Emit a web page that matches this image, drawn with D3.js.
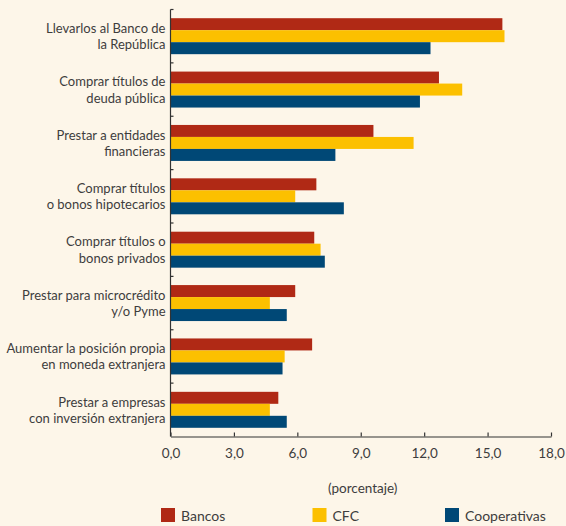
<!DOCTYPE html>
<html>
<head>
<meta charset="utf-8">
<script src="https://cdn.jsdelivr.net/npm/d3@7"></script>
<style>
  body { margin: 0; background: #fdf6e9; }
  svg { display: block; font-family: Lato, "Open Sans", sans-serif; }
</style>
</head>
<body>
<script>
// Data
var categories = [
  ["Llevarlos al Banco de", "la República"],
  ["Comprar títulos de", "deuda pública"],
  ["Prestar a entidades", "financieras"],
  ["Comprar títulos", "o bonos hipotecarios"],
  ["Comprar títulos o", "bonos privados"],
  ["Prestar para microcrédito", "y/o Pyme"],
  ["Aumentar la posición propia", "en moneda extranjera"],
  ["Prestar a empresas", "con inversión extranjera"]
];
var seriesNames = ["Bancos", "CFC", "Cooperativas"];
var bancos       = [15.7, 12.7, 9.6, 6.9, 6.8, 5.9, 6.7, 5.1];
var cfc          = [15.8, 13.8, 11.5, 5.9, 7.1, 4.7, 5.4, 4.7];
var cooperativas = [12.3, 11.8, 7.8, 8.2, 7.3, 5.5, 5.3, 5.5];
var xTicks = [0, 3, 6, 9, 12, 15, 18];
var axisTitle = "(porcentaje)";

var colors = ["#b02915", "#fcc000", "#004876"];

var svgWidth = 566;
var svgHeight = 526;

// plot area
var margin = { top: 9.5, left: 170.5 };
var chartWidth = 551 - margin.left;
var chartHeight = 436.5 - margin.top;

var svg = d3.select("body")
            .append("svg")
            .attr("width", svgWidth)
            .attr("height", svgHeight);

var chartGroup = svg.append("g")
                    .attr("transform", `translate(${margin.left}, ${margin.top})`);

var rows = categories.map(function(c, i) {
  return { label: c, values: [bancos[i], cfc[i], cooperativas[i]] };
});

var y = d3.scaleBand()
          .domain(d3.range(categories.length))
          .range([0, chartHeight])
          .paddingInner(0.326)
          .paddingOuter(0.163);

var y1 = d3.scaleBand()
           .domain(d3.range(seriesNames.length))
           .range([0, y.bandwidth()]);

var x = d3.scaleLinear()
          .domain([0, 18])
          .range([0, chartWidth]);

// bars
var groups = chartGroup.selectAll(".grp")
                       .data(rows)
                       .enter()
                       .append("g")
                       .attr("class", "grp")
                       .attr("transform", (d, i) => `translate(0, ${y(i)})`);

groups.selectAll("rect")
      .data(d => d.values)
      .enter()
      .append("rect")
      .attr("x", 0)
      .attr("y", (d, j) => y1(j))
      .attr("width", d => x(d))
      .attr("height", y1.bandwidth())
      .attr("fill", (d, j) => colors[j]);

// category labels (two lines)
groups.append("text")
      .attr("x", -5)
      .attr("y", y.bandwidth() / 2)
      .attr("text-anchor", "end")
      .style("font-size", "13px")
      .style("fill", "#3d3d3d")
      .selectAll("tspan")
      .data(d => d.label)
      .enter()
      .append("tspan")
      .attr("x", -5)
      .attr("dy", (d, k) => k === 0 ? "-0.25em" : "1.25em")
      .text(d => d);

// y axis: line with ticks between groups pointing right
var yEdges = d3.range(categories.length + 1).map(i => i * chartHeight / categories.length);
chartGroup.append("line")
          .attr("x1", 0).attr("x2", 0)
          .attr("y1", 0).attr("y2", chartHeight)
          .attr("stroke", "#333").attr("stroke-width", 1.2);
chartGroup.selectAll(".ytick")
          .data(yEdges.slice(0, -1))
          .enter()
          .append("line")
          .attr("x1", 0).attr("x2", 3)
          .attr("y1", d => d).attr("y2", d => d)
          .attr("stroke", "#333").attr("stroke-width", 1.2);

// x axis
var xAxis = chartGroup.append("g")
                      .attr("transform", "translate(0," + chartHeight + ")")
                      .call(d3.axisBottom(x)
                              .tickValues(xTicks)
                              .tickSizeInner(-4)
                              .tickSizeOuter(0)
                              .tickPadding(12)
                              .tickFormat(d => d3.format(".1f")(d).replace(".", ",")));
xAxis.select(".domain").attr("stroke", "#333").attr("stroke-width", 1.2);
xAxis.selectAll(".tick line").attr("stroke", "#333").attr("stroke-width", 1.2);
xAxis.selectAll(".tick text")
     .style("font-family", "Lato, 'Open Sans', sans-serif")
     .style("font-size", "13.5px")
     .style("fill", "#3d3d3d");

// axis title
svg.append("text")
   .attr("x", margin.left + chartWidth / 2 + 2)
   .attr("y", 493)
   .attr("text-anchor", "middle")
   .style("font-size", "13.5px")
   .style("fill", "#3d3d3d")
   .text(axisTitle);

// legend
var legendX = [161, 312.5, 445];
var legend = svg.selectAll(".legend")
                .data(seriesNames)
                .enter()
                .append("g")
                .attr("class", "legend")
                .attr("transform", (d, i) => `translate(${legendX[i]}, 508)`);

legend.append("rect")
      .attr("width", 14)
      .attr("height", 14)
      .attr("fill", (d, i) => colors[i]);

legend.append("text")
      .attr("x", 20)
      .attr("y", 13)
      .style("font-size", "14px")
      .style("fill", "#3d3d3d")
      .text(d => d);
</script>
</body>
</html>
